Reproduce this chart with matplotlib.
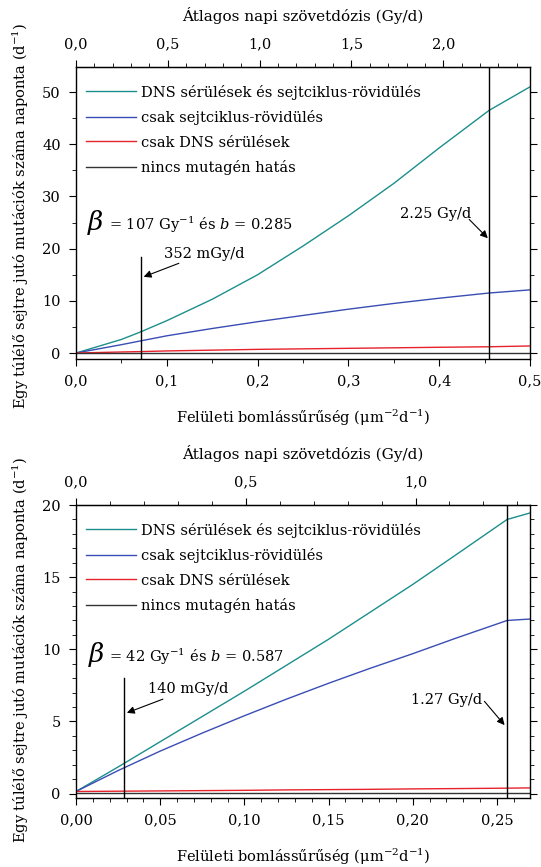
import numpy as np
import matplotlib.pyplot as plt
from matplotlib.ticker import MultipleLocator, FixedLocator, FuncFormatter

plt.rcParams['font.family'] = ['DejaVu Serif']
plt.rcParams['mathtext.fontset'] = 'dejavuserif'

# felso abra (b = 0.285)
x1 = [0.0, 0.05, 0.0705, 0.1, 0.15, 0.2, 0.25, 0.3, 0.35, 0.4, 0.455, 0.5]
dns_sejt1 = [0.0, 2.6, 4.0, 6.2, 10.3, 15.0, 20.5, 26.3, 32.5, 39.3, 46.5, 51.0]
sejt1 = [0.0, 1.6, 2.3, 3.3, 4.7, 6.0, 7.2, 8.4, 9.5, 10.5, 11.5, 12.1]
dns1 = [0.0, 0.2, 0.27, 0.4, 0.55, 0.7, 0.8, 0.9, 1.0, 1.1, 1.2, 1.35]
nincs1 = [0.05] * len(x1)

# also abra (b = 0.587)
x2 = [0.0, 0.025, 0.05, 0.075, 0.1, 0.125, 0.15, 0.175, 0.2, 0.225, 0.256, 0.2696]
dns_sejt2 = [0.15, 1.85, 3.6, 5.35, 7.1, 8.9, 10.7, 12.6, 14.5, 16.5, 19.0, 19.45]
sejt2 = [0.15, 1.6, 2.95, 4.2, 5.4, 6.55, 7.65, 8.7, 9.7, 10.75, 12.0, 12.1]
dns2 = [0.15, 0.17, 0.19, 0.21, 0.23, 0.26, 0.28, 0.3, 0.33, 0.35, 0.38, 0.4]
nincs2 = [0.05] * len(x2)

labels = ["DNS sérülések és sejtciklus-rövidülés", "csak sejtciklus-rövidülés",
          "csak DNS sérülések", "nincs mutagén hatás"]
colors = ["#1c8f8c", "#3a4db4", "#e8222c", "#333333"]

# dozis-konverzio (Gy/d per egyseg), jelolt dozisok
conv1, conv2 = 4.945, 4.96
dose_lo1, dose_hi1 = 0.352, 2.25
dose_lo2, dose_hi2 = 0.140, 1.27
top_ticks1 = [0.0, 0.5, 1.0, 1.5, 2.0]
top_ticks2 = [0.0, 0.5, 1.0]

fig = plt.figure(figsize=(5.41, 8.67), dpi=100)
ax1 = fig.add_axes([0.1405, 0.5859, 0.8392, 0.3368])
ax2 = fig.add_axes([0.1405, 0.0796, 0.8392, 0.3379])


def comma(fmt):
    return FuncFormatter(lambda v, p: (fmt % v).replace('.', ','))


def setup(ax, xmax, ylim, conv, top_ticks, xmaj, xmin, ymaj, ymin, xfmt):
    ax.set_xlim(0, xmax)
    ax.set_ylim(*ylim)
    ax.xaxis.set_major_locator(MultipleLocator(xmaj))
    ax.xaxis.set_minor_locator(MultipleLocator(xmin))
    ax.yaxis.set_major_locator(MultipleLocator(ymaj))
    ax.yaxis.set_minor_locator(MultipleLocator(ymin))
    ax.xaxis.set_major_formatter(comma(xfmt))
    ax.yaxis.set_major_formatter(FuncFormatter(lambda v, p: '%d' % v))
    ax.tick_params(which='both', direction='out', labelsize=10.5, pad=6)
    ax.tick_params(which='major', length=5)
    ax.tick_params(which='minor', length=3)
    ax.tick_params(axis='y', which='both', right=True, labelright=False)
    for s in ax.spines.values():
        s.set_linewidth(1.0)
    ax.set_xlabel("Felületi bomlássűrűség (μm$^{-2}$d$^{-1}$)", fontsize=10.5, labelpad=14)
    ax.set_ylabel("Egy túlélő sejtre jutó mutációk száma naponta (d$^{-1}$)", fontsize=10.5)
    top = ax.secondary_xaxis('top', functions=(lambda x: x * conv, lambda d: d / conv))
    top.xaxis.set_major_locator(FixedLocator(top_ticks))
    top.xaxis.set_minor_locator(MultipleLocator(0.1))
    top.xaxis.set_major_formatter(comma('%.1f'))
    top.tick_params(which='both', direction='out', labelsize=10.5, pad=6)
    top.tick_params(which='major', length=5)
    top.tick_params(which='minor', length=3)
    top.set_xlabel("Átlagos napi szövetdózis (Gy/d)", fontsize=11, labelpad=12)


setup(ax1, 0.5, (-1.15, 54.8), conv1, top_ticks1, 0.1, 0.05, 10, 5, '%.1f')
setup(ax2, 0.2696, (-0.3, 20.0), conv2, top_ticks2, 0.05, 0.01, 5, 1, '%.2f')
ax1.yaxis.set_label_coords(-0.1, 0.49)
ax2.yaxis.set_label_coords(-0.1, 0.505)

for ax, x, series in [(ax1, x1, [dns_sejt1, sejt1, dns1, nincs1]),
                      (ax2, x2, [dns_sejt2, sejt2, dns2, nincs2])]:
    for y, lab, c in zip(series, labels, colors):
        ax.plot(x, y, color=c, lw=1.0, label=lab)
    ax.legend(loc='upper left', frameon=False, fontsize=10.5, handlelength=3.4,
              handletextpad=0.35, labelspacing=0.72, borderaxespad=0.3,
              bbox_to_anchor=(0.0, 0.975))

arrow = dict(arrowstyle='-|>', color='k', lw=0.8, mutation_scale=11, shrinkA=0, shrinkB=0)

# felso abra jelolesei
ax1.axvline(dose_hi1 / conv1, color='k', lw=1.0)
ax1.plot([dose_lo1 / conv1] * 2, [-1.15, 18.4], color='k', lw=1.0)
ax1.text(0.012, 23.6, r"$\mathit{\beta}$", fontsize=19, va='baseline')
ax1.text(0.036, 23.6, "= 107 Gy$^{-1}$ és $\\mathit{b}$ = 0.285", fontsize=10.5, va='baseline')
ax1.annotate("352 mGy/d", xy=(0.0745, 14.6), xytext=(0.097, 18.3), fontsize=10.5,
             va='baseline', arrowprops=arrow)
ax1.annotate("2.25 Gy/d", xy=(0.4535, 22.0), xytext=(0.357, 25.8), fontsize=10.5,
             va='baseline')
ax1.annotate("", xy=(0.4535, 22.0), xytext=(0.433, 25.6), arrowprops=arrow)

# also abra jelolesei
ax2.axvline(dose_hi2 / conv2, color='k', lw=1.0)
ax2.plot([dose_lo2 / conv2] * 2, [-0.3, 8.0], color='k', lw=1.0)
ax2.text(0.0072, 9.15, r"$\mathit{\beta}$", fontsize=19, va='baseline')
ax2.text(0.0196, 9.15, "= 42 Gy$^{-1}$ és $\\mathit{b}$ = 0.587", fontsize=10.5, va='baseline')
ax2.annotate("140 mGy/d", xy=(0.0302, 5.6), xytext=(0.043, 6.95), fontsize=10.5,
             va='baseline', arrowprops=arrow)
ax2.annotate("1.27 Gy/d", xy=(0.2545, 4.75), xytext=(0.199, 6.2), fontsize=10.5,
             va='baseline')
ax2.annotate("", xy=(0.2545, 4.75), xytext=(0.2425, 6.4), arrowprops=arrow)

fig.savefig("out.png", dpi=100)
